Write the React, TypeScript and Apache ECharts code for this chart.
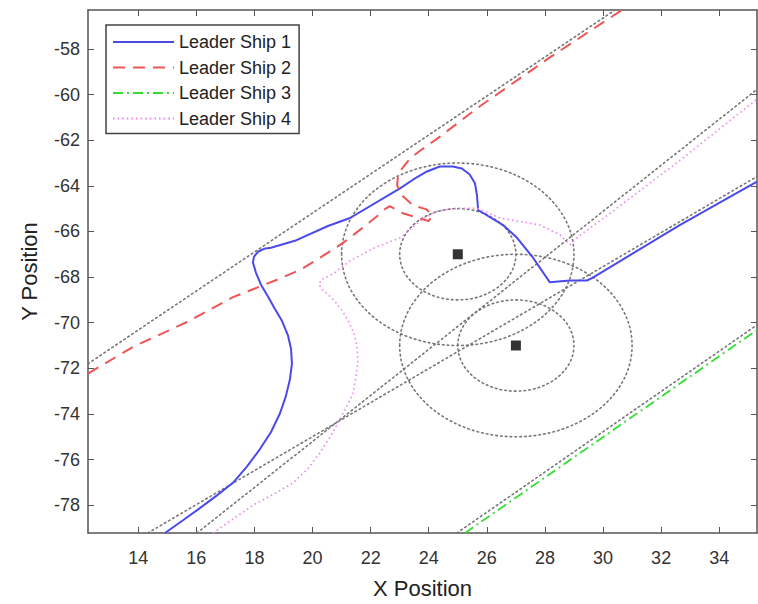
import React, { useEffect, useRef } from "react";
import * as echarts from "echarts";

const X_MIN = 12.27;
const X_MAX = 35.3;
const Y_MIN = -79.22;
const Y_MAX = -56.29;
const xTicks = [14, 16, 18, 20, 22, 24, 26, 28, 30, 32, 34];
const yTicks = [-78, -76, -74, -72, -70, -68, -66, -64, -62, -60, -58];

const shipNames = ["Leader Ship 1", "Leader Ship 2", "Leader Ship 3", "Leader Ship 4"];

const ship1: number[][] = [
  [14.92, -79.22], [15.54, -78.66], [16.12, -78.13], [16.71, -77.57], [17.26, -77.02],
  [17.74, -76.31], [18.19, -75.54], [18.57, -74.79], [18.88, -73.97], [19.08, -73.23],
  [19.22, -72.49], [19.29, -71.8], [19.26, -71.14], [19.15, -70.54], [18.95, -69.93],
  [18.71, -69.41], [18.46, -68.84], [18.22, -68.32], [18.05, -67.8], [17.95, -67.37],
  [17.98, -67.11], [18.12, -66.89], [18.33, -66.76], [18.57, -66.71], [19.39, -66.41],
  [20.53, -65.76], [21.29, -65.41], [23.01, -64.11], [23.47, -63.72], [23.94, -63.37],
  [24.38, -63.15], [24.83, -63.15], [25.14, -63.24], [25.41, -63.5], [25.59, -63.89],
  [25.66, -64.41], [25.7, -65.06], [25.87, -65.19], [26.56, -65.72], [27.04, -66.28],
  [27.59, -67.15], [28.17, -68.23], [28.86, -68.15], [29.45, -68.15], [29.65, -68.02],
  [32.64, -65.72], [35.3, -63.81],
];

const ship2: number[][] = [
  [12.27, -72.23], [13.82, -71.06], [15.68, -69.97], [17.26, -68.88], [18.71, -68.15],
  [19.6, -67.67], [20.53, -66.93], [21.05, -66.5], [21.63, -65.93], [22.22, -65.33],
  [22.49, -65.02], [22.66, -64.89], [23.08, -65.19], [23.45, -65.33], [23.87, -65.5],
  [24.01, -65.54], [24.11, -65.24], [23.9, -65.02], [23.45, -64.85], [23.11, -64.46],
  [22.91, -63.98], [22.94, -63.59], [23.08, -63.24], [23.35, -62.81], [23.7, -62.46],
  [24.28, -61.94], [25.76, -60.51], [28.17, -58.37], [30.65, -56.29],
];

const ship3: number[][] = [
  [25.25, -79.22], [35.3, -70.32],
];

const ship4: number[][] = [
  [16.57, -79.22], [17.26, -78.61], [17.95, -78.0], [18.64, -77.53], [19.33, -77.02],
  [19.84, -76.4], [20.25, -75.71], [20.63, -74.96], [20.94, -74.23], [21.18, -73.66],
  [21.39, -73.1], [21.49, -72.4], [21.56, -71.71], [21.53, -71.06], [21.43, -70.49],
  [21.25, -69.97], [21.01, -69.45], [20.77, -69.06], [20.53, -68.76], [20.32, -68.54],
  [20.22, -68.32], [20.32, -68.1], [20.53, -67.97], [20.77, -67.8], [21.29, -67.28],
  [22.15, -66.71], [23.01, -66.28], [23.7, -65.54], [24.28, -65.11], [24.97, -64.98],
  [25.66, -64.98], [26.45, -65.41], [27.83, -65.72], [28.52, -66.15], [28.86, -66.58],
  [29.1, -66.28], [30.34, -65.11], [32.64, -62.89], [35.3, -60.2],
];

const guideLines: number[][][] = [
  [[12.27, -71.8], [30.41, -56.29]],
  [[16.02, -79.22], [35.3, -59.77]],
  [[14.33, -79.22], [35.3, -63.59]],
  [[24.97, -79.22], [35.3, -70.1]],
];

const obstacles: number[][] = [
  [25, -67],
  [27, -71],
];

const safetyCircles: number[][] = [
  [25, -67, 2],
  [25, -67, 4],
  [27, -71, 2],
  [27, -71, 4],
];

const FONT = "'Liberation Sans', Arial, Helvetica, sans-serif";

export default function App() {
  const ref = useRef<HTMLDivElement>(null);

  useEffect(() => {
    if (!ref.current) return;
    const chart = echarts.init(ref.current, null, { renderer: "svg" });

    const axisLine = { show: true, lineStyle: { color: "#555", width: 1.5 } };
    const tickStyle = { color: "#555", width: 1 };

    const guideSeries = guideLines.map((pts) => ({
      type: "line",
      data: pts,
      symbol: "none",
      silent: true,
      lineStyle: { color: "#777", width: 1.6, type: [1.6, 3.2], cap: "round" },
      z: 2,
    }));

    const option: any = {
      animation: false,
      backgroundColor: "#fff",
      grid: { left: 88, top: 10, right: 1, bottom: 66, containLabel: false },
      legend: {
        show: true,
        orient: "vertical",
        left: 106,
        top: 25,
        itemWidth: 61,
        itemHeight: 12,
        itemGap: 7.5,
        padding: [8, 8, 6, 6],
        borderColor: "#444",
        borderWidth: 1.5,
        backgroundColor: "#fff",
        data: shipNames,
        itemStyle: { color: "rgba(0,0,0,0)", borderWidth: 0, opacity: 0 },
        textStyle: { fontSize: 18, color: "#222", fontFamily: FONT },
        z: 10,
      },
      xAxis: [
        {
          type: "value",
          position: "bottom",
          min: X_MIN,
          max: X_MAX,
          axisLine,
          axisTick: { show: true, inside: true, length: 6, lineStyle: tickStyle, customValues: xTicks },
          axisLabel: {
            show: true,
            customValues: xTicks,
            fontSize: 18,
            color: "#333",
            fontFamily: FONT,
            margin: 16,
          },
          splitLine: { show: false },
          name: "X Position",
          nameLocation: "middle",
          nameGap: 44,
          nameTextStyle: { fontSize: 22, color: "#222", fontFamily: FONT },
        },
        {
          type: "value",
          position: "top",
          min: X_MIN,
          max: X_MAX,
          axisLine,
          axisTick: { show: true, inside: true, length: 6, lineStyle: tickStyle, customValues: xTicks },
          axisLabel: { show: false },
          splitLine: { show: false },
        },
      ],
      yAxis: [
        {
          type: "value",
          position: "left",
          min: Y_MIN,
          max: Y_MAX,
          axisLine,
          axisTick: { show: true, inside: true, length: 6, lineStyle: tickStyle, customValues: yTicks },
          axisLabel: {
            show: true,
            customValues: yTicks,
            fontSize: 18,
            color: "#333",
            fontFamily: FONT,
            margin: 8,
          },
          splitLine: { show: false },
          name: "Y Position",
          nameLocation: "middle",
          nameGap: 48,
          nameTextStyle: { fontSize: 22, color: "#222", fontFamily: FONT },
        },
        {
          type: "value",
          position: "right",
          min: Y_MIN,
          max: Y_MAX,
          axisLine,
          axisTick: { show: true, inside: true, length: 6, lineStyle: tickStyle, customValues: yTicks },
          axisLabel: { show: false },
          splitLine: { show: false },
        },
      ],
      series: [
        ...guideSeries,
        {
          type: "custom",
          silent: true,
          data: safetyCircles,
          encode: { x: 0, y: 1 },
          z: 2,
          renderItem: (params: any, api: any) => {
            const c = api.coord([api.value(0), api.value(1)]);
            const s = api.size([api.value(2), api.value(2)]);
            return {
              type: "ellipse",
              shape: { cx: c[0], cy: c[1], rx: s[0], ry: s[1] },
              style: {
                fill: "none",
                stroke: "#777",
                lineWidth: 1.6,
                lineDash: [1.6, 3.2],
                lineCap: "round",
              },
            };
          },
        },
        {
          name: shipNames[0],
          type: "line",
          data: ship1,
          symbol: "none",
          lineStyle: { color: "#4a4aec", width: 2 },
          itemStyle: { color: "#4a4aec" },
          z: 4,
        },
        {
          name: shipNames[1],
          type: "line",
          data: ship2,
          symbol: "none",
          lineStyle: { color: "#ee5555", width: 2, type: [12, 8] },
          itemStyle: { color: "#ee5555" },
          z: 4,
        },
        {
          name: shipNames[2],
          type: "line",
          data: ship3,
          symbol: "none",
          lineStyle: { color: "#33dd33", width: 1.8, type: [10, 4, 2, 4] },
          itemStyle: { color: "#33dd33" },
          z: 4,
        },
        {
          name: shipNames[3],
          type: "line",
          data: ship4,
          symbol: "none",
          lineStyle: { color: "#ee88ee", width: 1.6, type: [1.6, 3] },
          itemStyle: { color: "#ee88ee" },
          z: 4,
        },
        {
          type: "scatter",
          data: obstacles,
          symbol: "rect",
          symbolSize: 10,
          itemStyle: { color: "#000" },
          silent: true,
          z: 5,
        },
      ],
    };

    chart.setOption(option);
    return () => chart.dispose();
  }, []);

  return (
    <div
      ref={ref}
      style={{ position: "absolute", left: 0, top: 0, width: 758, height: 604, background: "#fff" }}
    />
  );
}
